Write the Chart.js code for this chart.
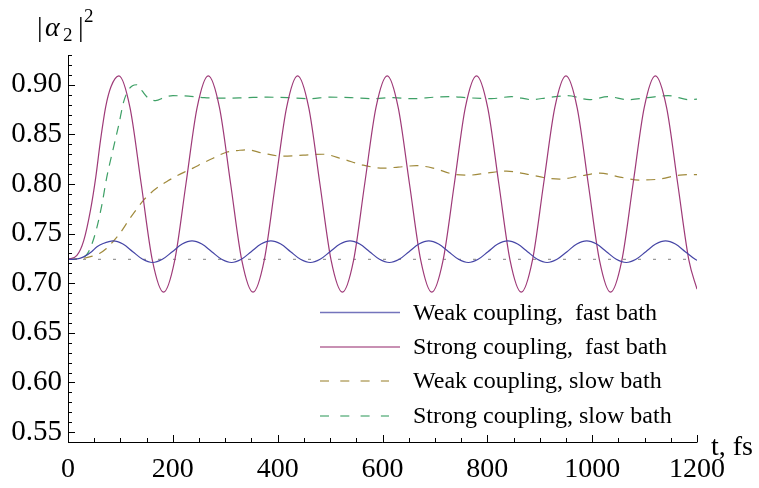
<!DOCTYPE html>
<html>
<head>
<meta charset="utf-8">
<script src="https://cdn.jsdelivr.net/npm/chart.js@4.4.1/dist/chart.umd.min.js"></script>
<style>
  html, body { margin: 0; padding: 0; background: #fff; }
  #wrap { width: 759px; height: 488px; }
</style>
</head>
<body>
<div id="wrap"><canvas id="chart" width="759" height="488"></canvas></div>
<script>
// values (t in fs, |alpha2|^2)
const seriesNames = [
  "Weak coupling,  fast bath",
  "Strong coupling,  fast bath",
  "Weak coupling, slow bath",
  "Strong coupling, slow bath"
];

const xTickValues = [0, 200, 400, 600, 800, 1000, 1200];
const yTickValues = [0.55, 0.60, 0.65, 0.70, 0.75, 0.80, 0.85, 0.90];

const weakFastT = [0, 15, 30, 45, 55.3, 67, 86,
  104.8, 123.6, 142.5, 161.3, 180, 199, 217.8, 236.6,
  255.4, 274.2, 293, 312, 330.7, 349.5, 368.3, 387,
  406, 424.7, 443.5, 462.5, 481, 500, 519, 538,
  556.6, 575.4, 594.2, 613, 632, 650.7, 669.5, 688.4,
  707, 726, 745, 763.7, 782.5, 801.3, 820, 839,
  857.8, 876.6, 895.4, 914, 933, 952, 970.7, 989.6,
  1008.4, 1027.2, 1046, 1065, 1083.6, 1102.4, 1121.2, 1140,
  1158.8, 1177.6, 1196.5, 1200];
const weakFastV = [0.7240, 0.7243, 0.7266, 0.7318, 0.7367, 0.7400, 0.7427,
  0.7395, 0.7318, 0.7241, 0.7209, 0.7241, 0.7318, 0.7395, 0.7427,
  0.7395, 0.7318, 0.7241, 0.7209, 0.7241, 0.7318, 0.7395, 0.7427,
  0.7395, 0.7318, 0.7241, 0.7209, 0.7241, 0.7318, 0.7395, 0.7427,
  0.7395, 0.7318, 0.7241, 0.7209, 0.7241, 0.7318, 0.7395, 0.7427,
  0.7395, 0.7318, 0.7241, 0.7209, 0.7241, 0.7318, 0.7395, 0.7427,
  0.7395, 0.7318, 0.7241, 0.7209, 0.7241, 0.7318, 0.7395, 0.7427,
  0.7395, 0.7318, 0.7241, 0.7209, 0.7241, 0.7318, 0.7395, 0.7427,
  0.7395, 0.7318, 0.7241, 0.7232];

const strongFastT = [0, 17, 30, 43, 53, 62, 72, 82, 97,
  118.3, 139.7, 161, 182.3, 203.6, 225, 246.3, 267.6,
  289, 310.3, 331.6, 353, 374.3, 395.6, 417, 438,
  459.3, 480.6, 502, 523.5, 544.8, 566, 587.5, 609,
  630, 651.5, 673, 694, 715.5, 737, 758, 779.4,
  800.7, 822, 843.4, 864.7, 886, 907.3, 928.7, 950,
  971.3, 992.6, 1014, 1035, 1056.6, 1078, 1099.3, 1120.6,
  1142, 1163.3, 1184.6, 1200];
const strongFastV = [0.724, 0.728, 0.743, 0.774, 0.807, 0.844, 0.878, 0.898, 0.909,
  0.877, 0.800, 0.723, 0.691, 0.723, 0.800, 0.877, 0.909,
  0.877, 0.800, 0.723, 0.691, 0.723, 0.800, 0.877, 0.909,
  0.877, 0.800, 0.723, 0.691, 0.723, 0.800, 0.877, 0.909,
  0.877, 0.800, 0.723, 0.691, 0.723, 0.800, 0.877, 0.909,
  0.877, 0.800, 0.723, 0.691, 0.723, 0.800, 0.877, 0.909,
  0.877, 0.800, 0.723, 0.691, 0.723, 0.800, 0.877, 0.909,
  0.877, 0.800, 0.723, 0.694];

const weakSlowT = [0, 15, 28.6, 44.6, 60, 73.3, 86, 98.7, 117.7, 130, 143, 158,
  175, 190, 206.9, 222, 238.5, 257, 276.7, 302.3, 327.7, 340.5, 372, 410,
  448.5, 486.6, 524.8, 563, 601, 630, 665, 696.6, 734.7, 766.6, 798.5, 836.6,
  874.8, 913, 938, 976.5, 1014.7, 1052.9, 1091, 1129, 1167.4, 1200];
const weakSlowV = [0.724, 0.7242, 0.725, 0.727, 0.730, 0.735, 0.742, 0.750, 0.765, 0.774, 0.783, 0.791,
  0.798, 0.803, 0.808, 0.812, 0.816, 0.821, 0.826, 0.832, 0.834, 0.8345, 0.831, 0.828,
  0.829, 0.830, 0.825, 0.819, 0.816, 0.817, 0.8185, 0.816, 0.810, 0.809, 0.811, 0.813,
  0.810, 0.806, 0.805, 0.808, 0.811, 0.807, 0.804, 0.805, 0.809, 0.8095];

const strongSlowT = [0, 20, 36, 46, 55, 65, 74, 86, 97, 106, 114.5, 123, 131, 141,
  152, 167, 185, 200, 230, 260, 300, 340, 380, 420, 460, 500, 540, 580, 620,
  658, 700, 730, 760, 808, 846, 885, 915, 953, 995, 1030, 1068, 1106, 1145, 1185, 1200];
const strongSlowV = [0.724, 0.725, 0.729, 0.740, 0.756, 0.780, 0.807, 0.835, 0.860, 0.8825, 0.894, 0.899, 0.900, 0.894,
  0.887, 0.884, 0.8875, 0.889, 0.8885, 0.887, 0.8865, 0.887, 0.8875, 0.887, 0.886, 0.8875, 0.887, 0.886, 0.887,
  0.886, 0.8875, 0.888, 0.887, 0.886, 0.888, 0.885, 0.887, 0.889, 0.885, 0.888, 0.885, 0.887, 0.889, 0.885, 0.8855];

const baselineT = [0, 1200];
const baselineV = [0.724, 0.724];

const colors = ["#4646a6", "#9e3a78", "#a08a3c", "#3ea066"];
const SERIF = "'Liberation Serif', 'DejaVu Serif', serif";

function pts(ts, vs) {
  return ts.map((t, i) => ({ x: t, y: vs[i] }));
}

function line(label, ts, vs, color, dash) {
  return {
    label: label,
    data: pts(ts, vs),
    borderColor: color,
    borderWidth: 1.2,
    borderDash: dash,
    pointRadius: 0,
    fill: false,
    cubicInterpolationMode: "monotone"
  };
}

// axes with inward ticks, axis titles and the legend, like the original plot
const decor = {
  id: "decor",
  afterDraw(chart) {
    const ctx = chart.ctx;
    const xs = chart.scales.x, ys = chart.scales.y;
    const x0 = xs.getPixelForValue(0), x1 = xs.getPixelForValue(1200);
    const yb = ys.getPixelForValue(0.54), yt = ys.getPixelForValue(0.93);
    ctx.save();
    ctx.strokeStyle = "#000";
    ctx.lineWidth = 1;
    ctx.beginPath();
    ctx.moveTo(x0, yb + 0.5); ctx.lineTo(x1 + 0.5, yb + 0.5);
    ctx.moveTo(x0 + 0.5, yb); ctx.lineTo(x0 + 0.5, yt);
    // x ticks every 50, major every 200
    for (let i = 0; i <= 24; i++) {
      const px = Math.round(xs.getPixelForValue(i * 50)) + 0.5;
      const len = i % 4 === 0 ? 7 : 4;
      ctx.moveTo(px, yb); ctx.lineTo(px, yb - len);
    }
    // y ticks every 0.01, major every 0.05
    for (let i = 54; i <= 93; i++) {
      const py = Math.round(ys.getPixelForValue(i / 100)) + 0.5;
      const len = i % 5 === 0 ? 7 : 4;
      ctx.moveTo(x0, py); ctx.lineTo(x0 + len, py);
    }
    ctx.stroke();

    // axis labels
    ctx.fillStyle = "#000";
    ctx.textBaseline = "alphabetic";
    ctx.textAlign = "left";
    ctx.font = "28px " + SERIF;
    ctx.fillText("|", 37, 36);
    ctx.font = "italic 28px " + SERIF;
    ctx.fillText("\u03B1", 45, 36);
    ctx.font = "19px " + SERIF;
    ctx.fillText("2", 63, 41);
    ctx.font = "28px " + SERIF;
    ctx.fillText("|", 78, 36);
    ctx.font = "19px " + SERIF;
    ctx.fillText("2", 84, 22);
    ctx.font = "28px " + SERIF;
    ctx.fillText("t, fs", 711, 455);

    // legend
    const rows = [312.5, 347, 381, 416];
    const dashes = [[], [], [9, 11.3], [9, 11.3]];
    ctx.font = "24px " + SERIF;
    rows.forEach((ry, i) => {
      ctx.strokeStyle = colors[i];
      ctx.globalAlpha = 0.75;
      ctx.lineWidth = 1.3;
      ctx.setLineDash(dashes[i]);
      ctx.beginPath();
      ctx.moveTo(320, ry);
      ctx.lineTo(dashes[i].length ? 389 : 400, ry);
      ctx.stroke();
      ctx.setLineDash([]);
      ctx.globalAlpha = 1;
      ctx.fillText(seriesNames[i], 413, ry + 7);
    });
    ctx.restore();
  }
};

new Chart(document.getElementById("chart"), {
  type: "line",
  data: {
    datasets: [
      line(seriesNames[0], weakFastT, weakFastV, colors[0], []),
      line(seriesNames[1], strongFastT, strongFastV, colors[1], []),
      line(seriesNames[2], weakSlowT, weakSlowV, colors[2], [9, 7]),
      line(seriesNames[3], strongSlowT, strongSlowV, colors[3], [9, 7]),
      {
        label: "baseline",
        data: pts(baselineT, baselineV),
        borderColor: "#9a9a9a",
        borderWidth: 1.2,
        borderDash: [3, 12],
        pointRadius: 0,
        fill: false
      }
    ]
  },
  options: {
    responsive: false,
    animation: false,
    events: [],
    layout: { padding: { top: 55, right: 62, left: 0, bottom: 0 } },
    plugins: { legend: { display: false }, tooltip: { enabled: false } },
    scales: {
      x: {
        type: "linear",
        min: 0,
        max: 1200,
        grid: { display: false, drawTicks: false },
        border: { display: false },
        afterFit(s) { s.height = 46; },
        afterBuildTicks(s) { s.ticks = xTickValues.map(v => ({ value: v })); },
        ticks: {
          padding: 11,
          color: "#000",
          maxRotation: 0,
          autoSkip: false,
          font: { family: SERIF, size: 28 },
          callback: v => String(v)
        }
      },
      y: {
        type: "linear",
        min: 0.54,
        max: 0.93,
        grid: { display: false, drawTicks: false },
        border: { display: false },
        afterFit(s) { s.width = 68; },
        afterBuildTicks(s) { s.ticks = yTickValues.map(v => ({ value: v })); },
        ticks: {
          padding: 6,
          color: "#000",
          autoSkip: false,
          font: { family: SERIF, size: 29 },
          callback: v => v.toFixed(2)
        }
      }
    }
  },
  plugins: [decor]
});
</script>
</body>
</html>
